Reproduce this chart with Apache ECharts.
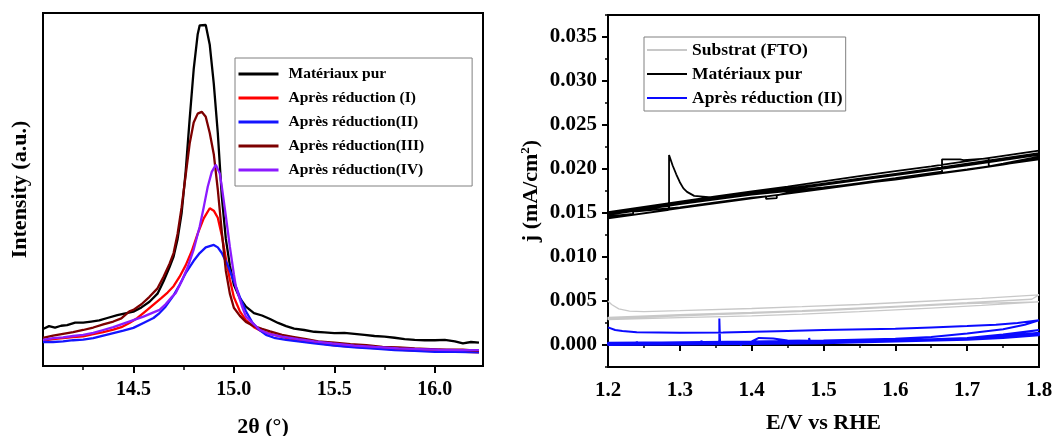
<!DOCTYPE html>
<html lang="fr" style="height: 100%">
<head>
  <meta charset="utf-8">
</head>
<body style="height: 100%; margin: 0; background: #fff">
  <div id="container" style="width: 1052px; height: 436px"></div>

  <script type="text/javascript" src="https://cdn.jsdelivr.net/npm/echarts@6/dist/echarts.min.js"></script>
  <script>
    var dom = document.getElementById('container');
    var myChart = echarts.init(dom, null, { renderer: 'canvas' });

    // ---- XRD (left) ----
    var xrdTicks = [14.5, 15.0, 15.5, 16.0];
    var xrdMinor = [14.25, 14.75, 15.25, 15.75];

    var pureTheta = [14.05,14.08,14.11,14.14,14.17,14.21,14.25,14.29,14.33,14.37,14.42,14.46,14.50,14.54,14.58,14.62,14.65,14.68,14.70,14.72,14.74,14.76,14.78,14.80,14.82,14.83,14.86,14.88,14.90,14.92,14.94,14.96,14.98,15.00,15.03,15.06,15.10,15.14,15.18,15.22,15.26,15.30,15.35,15.40,15.45,15.50,15.55,15.60,15.65,15.70,15.75,15.80,15.85,15.90,15.95,16.00,16.05,16.10,16.14,16.18,16.22];
    var pureI = [10.5,11.3,10.9,11.4,11.6,12.3,12.3,12.6,12.9,13.6,14.4,14.9,15.4,16.6,18.2,20.5,24.0,28.0,31.0,36.0,43.3,55.0,70.0,84.0,94.0,96.5,96.6,91.0,80.0,66.0,48.0,36.0,28.5,23.0,19.2,16.8,15.0,14.3,13.3,12.2,11.3,10.6,10.2,9.7,9.5,9.3,9.4,9.1,8.8,8.5,8.3,8.0,7.6,7.4,7.3,7.3,7.4,7.0,6.4,6.8,6.6];

    var red1Theta = [14.05,14.10,14.15,14.20,14.25,14.30,14.35,14.40,14.44,14.48,14.52,14.56,14.60,14.64,14.67,14.70,14.73,14.76,14.79,14.82,14.85,14.88,14.90,14.92,14.94,14.96,14.98,15.00,15.03,15.06,15.10,15.14,15.20,15.26,15.32,15.40,15.48,15.56,15.64,15.72,15.80,15.88,15.96,16.04,16.12,16.22];
    var red1I = [7.2,7.6,7.9,8.2,8.4,9.0,9.6,10.3,11.0,12.2,13.6,15.5,17.4,19.3,20.8,22.6,25.3,28.5,32.5,37.5,41.8,44.7,44.0,42.0,37.0,30.5,24.5,19.5,15.5,13.0,11.0,9.8,8.8,8.0,7.4,6.7,6.0,5.6,5.3,5.0,4.7,4.4,4.3,4.2,4.1,3.9];

    var red2Theta = [14.05,14.10,14.15,14.20,14.25,14.30,14.35,14.40,14.45,14.50,14.55,14.60,14.63,14.66,14.70,14.73,14.76,14.80,14.83,14.86,14.90,14.92,14.94,14.97,15.00,15.03,15.06,15.09,15.12,15.16,15.20,15.26,15.33,15.40,15.50,15.60,15.70,15.80,15.90,16.00,16.10,16.22];
    var red2I = [6.8,6.8,7.0,7.3,7.5,7.9,8.6,9.3,10.0,10.8,12.2,13.6,15.0,16.8,20.0,23.0,26.3,29.8,32.0,33.6,34.3,33.6,32.0,28.5,24.0,19.5,15.5,12.5,10.5,8.8,8.0,7.4,6.9,6.4,5.8,5.3,4.9,4.5,4.3,4.0,4.0,3.9];

    var red3Theta = [14.05,14.10,14.15,14.20,14.25,14.30,14.35,14.40,14.44,14.48,14.50,14.54,14.58,14.62,14.65,14.68,14.70,14.72,14.74,14.76,14.78,14.80,14.82,14.84,14.86,14.88,14.90,14.92,14.94,14.96,14.98,15.00,15.03,15.06,15.10,15.14,15.18,15.24,15.30,15.36,15.42,15.50,15.58,15.66,15.74,15.82,15.90,15.98,16.06,16.14,16.22];
    var red3I = [8.0,8.6,9.1,9.6,10.2,10.9,11.8,12.6,13.5,15.5,15.9,17.5,19.6,22.0,25.3,29.0,32.0,37.5,45.0,54.0,63.0,69.0,71.5,72.0,70.6,66.0,60.0,50.0,38.0,27.0,20.5,16.5,14.2,12.5,11.3,10.5,9.8,8.8,8.2,7.6,7.0,6.6,6.2,5.9,5.4,5.3,5.0,4.8,4.6,4.6,4.3];

    var red4Theta = [14.05,14.10,14.15,14.20,14.25,14.30,14.35,14.40,14.45,14.50,14.55,14.60,14.63,14.66,14.69,14.71,14.74,14.77,14.80,14.83,14.85,14.87,14.89,14.91,14.93,14.94,14.96,14.98,15.00,15.01,15.04,15.06,15.10,15.13,15.18,15.24,15.32,15.40,15.49,15.60,15.70,15.82,15.92,16.02,16.12,16.22];
    var red4I = [7.4,7.9,8.1,8.5,8.8,9.4,10.2,11.0,12.0,13.0,14.0,15.2,15.9,17.5,19.5,20.6,24.0,28.0,33.0,39.5,45.0,50.8,55.0,57.0,54.5,50.8,42.5,33.8,26.0,22.5,17.0,14.0,11.8,10.2,9.0,8.3,7.6,7.0,6.4,5.8,5.4,5.0,4.8,4.6,4.5,4.5];

    // ---- CV (right) ----
    var cvYTicks = [0, 0.005, 0.010, 0.015, 0.020, 0.025, 0.030, 0.035];
    var cvYMinor = [-0.0025, 0.0025, 0.0075, 0.0125, 0.0175, 0.0225, 0.0275, 0.0325, 0.0375];

    var ftoSweeps = [
      [[1.2,0.0050],[1.205,0.0046],[1.215,0.0041],[1.23,0.00385],[1.25,0.0038],[1.3,0.0039],[1.4,0.00415],[1.47,0.00435],[1.55,0.0046],[1.65,0.0050],[1.72,0.0053],[1.8,0.0057]],
      [[1.8,0.0057],[1.79,0.0052],[1.7,0.0048],[1.6,0.0044],[1.47,0.0039],[1.4,0.0037],[1.3,0.00345],[1.2,0.00315]],
      [[1.2,0.0029],[1.3,0.0031],[1.4,0.0033],[1.47,0.0035],[1.55,0.0038],[1.65,0.0042],[1.72,0.0045],[1.8,0.0049]],
      [[1.8,0.0051],[1.7,0.0047],[1.6,0.0043],[1.5,0.0039],[1.4,0.0036],[1.3,0.0033],[1.2,0.0030]]
    ];

    var pureSweeps = [
      [[1.2,0.0144],[1.25,0.01495],[1.285,0.01535],[1.285,0.0216],[1.29,0.0204],[1.295,0.0194],[1.30,0.0185],[1.305,0.0178],[1.31,0.0174],[1.32,0.01695],[1.34,0.0168],[1.36,0.01685],[1.40,0.0171],[1.45,0.0175],[1.50,0.0179],[1.55,0.01835],[1.60,0.0188],[1.65,0.01935],[1.70,0.0199],[1.75,0.0205],[1.80,0.0212]],
      [[1.80,0.0221],[1.75,0.0215],[1.70,0.0209],[1.65,0.0203],[1.60,0.01975],[1.55,0.0192],[1.50,0.0186],[1.45,0.0180],[1.40,0.01745],[1.35,0.0169],[1.30,0.0163],[1.25,0.0157],[1.20,0.0151]],
      [[1.2,0.0146],[1.235,0.0149],[1.235,0.0152],[1.24,0.0152],[1.24,0.0150],[1.30,0.01565],[1.35,0.0162],[1.40,0.01675],[1.42,0.0169],[1.42,0.0166],[1.435,0.0167],[1.435,0.0170],[1.45,0.0173],[1.50,0.01785],[1.55,0.0184],[1.60,0.01895],[1.665,0.0197],[1.665,0.0211],[1.69,0.0211],[1.695,0.0210],[1.73,0.0212],[1.73,0.0203],[1.75,0.0206],[1.80,0.0214]],
      [[1.80,0.0218],[1.75,0.0212],[1.70,0.0206],[1.65,0.0200],[1.60,0.01945],[1.55,0.0189],[1.50,0.01835],[1.45,0.0178],[1.40,0.01725],[1.35,0.0167],[1.30,0.0161],[1.25,0.0155],[1.20,0.0149]],
      [[1.2,0.0144],[1.3,0.01555],[1.4,0.01665],[1.5,0.01775],[1.6,0.01885],[1.7,0.01995],[1.8,0.0211]],
      [[1.8,0.0216],[1.7,0.0204],[1.6,0.0193],[1.5,0.0182],[1.4,0.0171],[1.3,0.0160],[1.2,0.0148]]
    ];

    var redIISweeps = [
      [[1.2,0.0020],[1.21,0.0017],[1.22,0.0016],[1.24,0.00145],[1.3,0.0014],[1.36,0.00143],[1.45,0.0016],[1.5,0.0017],[1.6,0.00185],[1.65,0.0020],[1.7,0.00215],[1.74,0.0023],[1.77,0.0025],[1.8,0.0028]],
      [[1.8,0.0028],[1.78,0.0023],[1.75,0.0018],[1.7,0.0013],[1.65,0.0009],[1.6,0.0007],[1.5,0.0005],[1.4,0.0004],[1.3,0.0003],[1.2,0.0002]],
      [[1.2,0.0001],[1.24,0.00015],[1.24,0.0004],[1.241,0.00015],[1.28,0.0002],[1.3,0.0002],[1.33,0.00022],[1.33,0.0005],[1.331,0.00022],[1.355,0.00025],[1.355,0.0030],[1.356,0.0003],[1.385,0.00035],[1.385,-0.0001],[1.386,0.00035],[1.4,0.0004],[1.41,0.0008],[1.43,0.00075],[1.45,0.0005],[1.48,0.00045],[1.48,0.0008],[1.481,0.00045],[1.55,0.0005],[1.6,0.00055],[1.65,0.00065],[1.7,0.0008],[1.75,0.0011],[1.8,0.0017]],
      [[1.8,0.0017],[1.75,0.0012],[1.7,0.0008],[1.6,0.0005],[1.5,0.0004],[1.4,0.00035],[1.3,0.0003],[1.2,0.00025]],
      [[1.2,0.0000],[1.3,0.00005],[1.4,0.0001],[1.5,0.0002],[1.6,0.0004],[1.7,0.0006],[1.75,0.0008],[1.8,0.0011]],
      [[1.8,0.0014],[1.75,0.0010],[1.7,0.0007],[1.6,0.0004],[1.5,0.0003],[1.4,0.0002],[1.3,0.00015],[1.2,0.0001]],
      [[1.2,0.0002],[1.4,0.0003],[1.6,0.0005],[1.7,0.0007],[1.75,0.0009],[1.8,0.0013]],
      [[1.8,0.0013],[1.7,0.0008],[1.6,0.0005],[1.4,0.0003],[1.2,0.0002]]
    ];

    function zip(xs, ys) {
      return xs.map(function (x, i) { return [x, ys[i]]; });
    }
    function joinSweeps(sweeps) {
      return [].concat.apply([], sweeps);
    }

    var serif = 'Liberation Serif';
    var boldText = { fontFamily: serif, fontWeight: 'bold', color: '#000' };

    function lineSeries(name, data, color, width, xIdx, yIdx) {
      return {
        name: name,
        type: 'line',
        xAxisIndex: xIdx,
        yAxisIndex: yIdx,
        data: data,
        showSymbol: false,
        symbol: 'none',
        smooth: false,
        clip: true,
        animation: false,
        color: color,
        lineStyle: { color: color, width: width }
      };
    }

    var option = {
      backgroundColor: '#fff',
      animation: false,
      grid: [
        { left: 43, top: 13, width: 440, height: 353, outerBoundsMode: 'none', show: true, borderColor: '#000', borderWidth: 2, backgroundColor: 'transparent' },
        { left: 608, top: 15, width: 431, height: 352, outerBoundsMode: 'none', show: true, borderColor: '#000', borderWidth: 2, backgroundColor: 'transparent' }
      ],
      legend: [
        {
          orient: 'vertical',
          left: 235, top: 58,
          data: ['Matériaux pur', 'Après réduction (I)', 'Après réduction(II)', 'Après réduction(III)', 'Après réduction(IV)'],
          itemWidth: 40, itemHeight: 16, itemGap: 8,
          padding: [8, 48, 8, 2],
          borderColor: '#808080', borderWidth: 1,
          itemStyle: { opacity: 0 },
          lineStyle: { width: 3 },
          textStyle: { fontFamily: serif, fontWeight: 'bold', fontSize: 15.5, color: '#000', padding: [0, 0, 0, 5] }
        },
        {
          orient: 'vertical',
          left: 644, top: 37,
          data: ['Substrat (FTO)', 'Matériaux pur', 'Après réduction (II)'],
          itemWidth: 40, itemHeight: 17, itemGap: 6,
          padding: [4, 3, 4, 2],
          borderColor: '#808080', borderWidth: 1,
          itemStyle: { opacity: 0 },
          lineStyle: { width: 2 },
          textStyle: { fontFamily: serif, fontWeight: 'bold', fontSize: 17.5, color: '#000' }
        }
      ],
      xAxis: [
        {
          type: 'value', gridIndex: 0, min: 14.05, max: 16.24,
          name: '2θ (°)', nameLocation: 'middle', nameGap: 50,
          nameTextStyle: Object.assign({ fontSize: 22 }, boldText),
          axisLine: { show: true, lineStyle: { color: '#000', width: 2 } },
          axisTick: { show: true, customValues: xrdTicks, length: 7, lineStyle: { color: '#000', width: 2 } },
          axisLabel: Object.assign({ customValues: xrdTicks, fontSize: 20, margin: 14, formatter: function (v) { return v.toFixed(1); } }, boldText),
          splitLine: { show: false }
        },
        {
          type: 'value', gridIndex: 0, min: 14.05, max: 16.24, position: 'bottom',
          axisLine: { show: false },
          axisTick: { show: true, customValues: xrdMinor, length: 4, lineStyle: { color: '#000', width: 1.5 } },
          axisLabel: { show: false },
          splitLine: { show: false }
        },
        {
          type: 'value', gridIndex: 1, min: 1.2, max: 1.8, interval: 0.1,
          name: 'E/V vs RHE', nameLocation: 'middle', nameGap: 45,
          nameTextStyle: Object.assign({ fontSize: 22 }, boldText),
          axisLine: { show: true, lineStyle: { color: '#000', width: 2 } },
          axisTick: { show: true, length: 6, lineStyle: { color: '#000', width: 2 } },
          minorTick: { show: true, splitNumber: 2, length: 3, lineStyle: { color: '#000', width: 1.5 } },
          axisLabel: Object.assign({ fontSize: 21, margin: 13, formatter: function (v) { return v.toFixed(1); } }, boldText),
          splitLine: { show: false }
        }
      ],
      yAxis: [
        {
          type: 'value', gridIndex: 0, min: 0, max: 100,
          name: 'Intensity (a.u.)', nameLocation: 'middle', nameGap: 12,
          nameTextStyle: Object.assign({ fontSize: 22 }, boldText),
          axisLine: { show: true, lineStyle: { color: '#000', width: 2 } },
          axisTick: { show: false },
          axisLabel: { show: false },
          splitLine: { show: false }
        },
        {
          type: 'value', gridIndex: 1, min: -0.0025, max: 0.0375,
          name: 'j (mA/cm{sup|2})', nameLocation: 'middle', nameGap: 64,
          nameTextStyle: Object.assign({ fontSize: 22, rich: { sup: { fontFamily: serif, fontWeight: 'bold', fontSize: 13, color: '#000', padding: [0, 0, 12, 0] } } }, boldText),
          axisLine: { show: true, lineStyle: { color: '#000', width: 2 } },
          axisTick: { show: true, customValues: cvYTicks, length: 6, lineStyle: { color: '#000', width: 2 } },
          axisLabel: Object.assign({ customValues: cvYTicks, fontSize: 21, margin: 11, formatter: function (v) { return v.toFixed(3); } }, boldText),
          splitLine: { show: false }
        },
        {
          type: 'value', gridIndex: 1, min: -0.0025, max: 0.0375, position: 'left',
          axisLine: { show: false },
          axisTick: { show: true, customValues: cvYMinor, length: 3, lineStyle: { color: '#000', width: 1.5 } },
          axisLabel: { show: false },
          splitLine: { show: false }
        }
      ],
      series: [
        lineSeries('Matériaux pur', zip(pureTheta, pureI), '#000000', 2.3, 0, 0),
        lineSeries('Après réduction (I)', zip(red1Theta, red1I), '#ff0000', 2.3, 0, 0),
        lineSeries('Après réduction(II)', zip(red2Theta, red2I), '#1414ff', 2.3, 0, 0),
        lineSeries('Après réduction(III)', zip(red3Theta, red3I), '#7d0000', 2.3, 0, 0),
        lineSeries('Après réduction(IV)', zip(red4Theta, red4I), '#8c1aff', 2.3, 0, 0),
        lineSeries('Substrat (FTO)', joinSweeps(ftoSweeps), '#c8c8c8', 1.3, 2, 1),
        lineSeries('Matériaux pur', joinSweeps(pureSweeps), '#000000', 1.8, 2, 1),
        lineSeries('Après réduction (II)', joinSweeps(redIISweeps), '#0a0aff', 2, 2, 1)
      ]
    };

    myChart.setOption(option);
    window.addEventListener('resize', myChart.resize);
  </script>
</body>
</html>
